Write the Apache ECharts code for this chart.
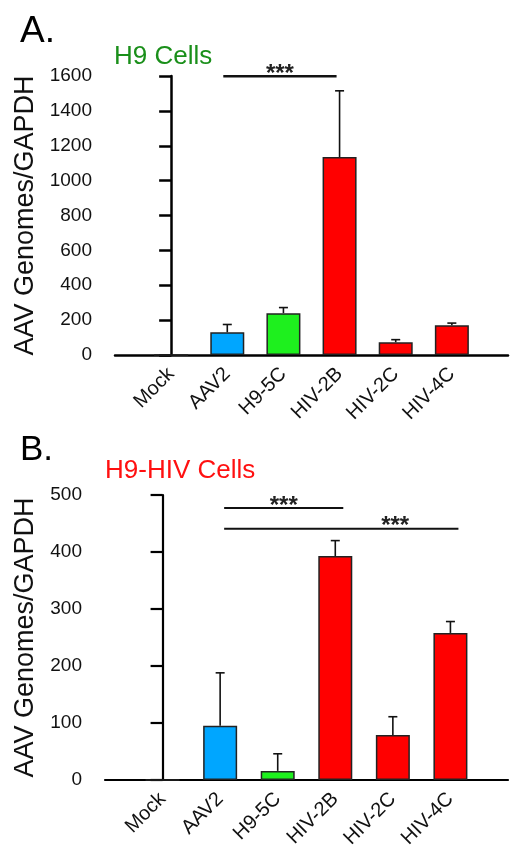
<!DOCTYPE html>
<html>
<head>
<meta charset="utf-8">
<script src="https://cdn.jsdelivr.net/npm/echarts@6/dist/echarts.min.js"></script>
<style>html,body{margin:0;padding:0;background:#fff}#c{width:532px;height:858px}</style>
</head>
<body>
<div id="c"></div>
<script>
// ---- data ----
const categories = ['Mock', 'AAV2', 'H9-5C', 'HIV-2B', 'HIV-2C', 'HIV-4C'];
const valuesA = [0, 130, 240, 1135, 73, 170];
const errorsA = [0, 45, 32, 380, 15, 13];
const valuesB = [0, 95, 16, 393, 79, 258];
const errorsB = [0, 93, 30, 27, 32, 20];
const ticksA = [0, 200, 400, 600, 800, 1000, 1200, 1400, 1600];
const ticksB = [0, 100, 200, 300, 400, 500];
// significance brackets: [fromCategory, toCategory, height]
const bracketsA = [['AAV2', 'HIV-2B', 1598]];
const bracketsB = [['AAV2', 'HIV-2B', 477], ['AAV2', 'HIV-4C', 441]];

// ---- styles ----
const barColors = ['#ffffff', '#00a6ff', '#1ef01e', '#ff0000', '#ff0000', '#ff0000'];
const FONT = 'Liberation Sans, Arial, sans-serif';

const chart = echarts.init(document.getElementById('c'), null, {renderer: 'canvas'});

function xAxisCfg(gi, w) {
  return {
    gridIndex: gi, type: 'value', min: -1, max: 6, interval: 1,
    axisLine: {show: true, onZero: false, lineStyle: {color: '#000', width: w}},
    axisTick: {show: false}, splitLine: {show: false},
    axisLabel: {rotate: 45, fontSize: 20, color: '#111', margin: 16, fontFamily: FONT,
      formatter: v => (categories[v] !== undefined ? categories[v] : '')}
  };
}
function yAxisCfg(gi, ticks, gap, w) {
  return {
    gridIndex: gi, type: 'value', min: ticks[0], max: ticks[ticks.length - 1],
    interval: ticks[1] - ticks[0],
    name: 'AAV Genomes/GAPDH', nameLocation: 'middle', nameRotate: 90, nameGap: gap,
    nameTextStyle: {fontSize: 27, color: '#111', fontFamily: FONT},
    axisLine: {show: true, lineStyle: {color: '#000', width: w}},
    axisTick: {show: true, length: 12, lineStyle: {color: '#000', width: w}},
    splitLine: {show: false},
    axisLabel: {fontSize: 19, color: '#111', margin: 23, fontFamily: FONT,
      formatter: v => String(v)}
  };
}
function barSeries(gi, values) {
  return {
    type: 'bar', xAxisIndex: gi, yAxisIndex: gi, barWidth: 34,
    data: values.map((v, i) => ({value: [i, v], itemStyle: {color: barColors[i]}})),
    itemStyle: {borderColor: '#222', borderWidth: 1.5}
  };
}
function errSeries(gi, values, errs) {
  return {
    type: 'custom', xAxisIndex: gi, yAxisIndex: gi, z: 1,
    data: values.map((v, i) => [i, v, v + errs[i]]),
    renderItem: (params, api) => {
      if (api.value(2) === api.value(1)) return null;
      const p0 = api.coord([api.value(0), api.value(1)]);
      const p1 = api.coord([api.value(0), api.value(2)]);
      const st = {stroke: '#111', lineWidth: 1.6};
      return {type: 'group', children: [
        {type: 'line', shape: {x1: p0[0], y1: p0[1], x2: p1[0], y2: p1[1]}, style: st},
        {type: 'line', shape: {x1: p1[0] - 4.5, y1: p1[1], x2: p1[0] + 4.5, y2: p1[1]}, style: st}
      ]};
    }
  };
}
function bracketSeries(gi, brackets, offL, offR, lw) {
  return {
    type: 'custom', xAxisIndex: gi, yAxisIndex: gi, z: 5, clip: false,
    data: brackets.map(b => [categories.indexOf(b[0]), categories.indexOf(b[1]), b[2]]),
    renderItem: (params, api) => {
      const a = api.coord([api.value(0), api.value(2)]);
      const b = api.coord([api.value(1), api.value(2)]);
      const x1 = a[0] + offL, x2 = b[0] + offR, y = a[1];
      const tx = params.dataIndex === 1 ? x1 + (x2 - x1) * 0.73 : (x1 + x2) / 2;
      return {type: 'group', children: [
        {type: 'line', shape: {x1: x1, y1: y, x2: x2, y2: y}, style: {stroke: '#111', lineWidth: lw}},
        {type: 'text', x: tx, y: y - 2, style: {text: '***', fontSize: 24, fontWeight: 'bold', fontFamily: FONT,
          fill: '#222', align: 'center', verticalAlign: 'middle'}}
      ]};
    }
  };
}

chart.setOption({
  animation: false,
  backgroundColor: '#fff',
  title: [
    {text: 'A.', left: 15, top: 8, textStyle: {fontSize: 37, fontWeight: 'normal', color: '#000', fontFamily: FONT}},
    {text: 'H9 Cells', left: 109, top: 39, textStyle: {fontSize: 26, fontWeight: 'normal', color: '#1a8f1a', fontFamily: FONT}},
    {text: 'B.', left: 15, top: 428, textStyle: {fontSize: 35, fontWeight: 'normal', color: '#000', fontFamily: FONT}},
    {text: 'H9-HIV Cells', left: 100, top: 453, textStyle: {fontSize: 26, fontWeight: 'normal', color: '#ff1010', fontFamily: FONT}}
  ],
  grid: [
    {left: 115, right: 24, top: 76, height: 279},
    {left: 105, right: 24, top: 495, height: 285}
  ],
  xAxis: [xAxisCfg(0, 2.5), xAxisCfg(1, 2.2)],
  yAxis: [yAxisCfg(0, ticksA, 69, 2.5), yAxisCfg(1, ticksB, 59, 2.2)],
  series: [
    errSeries(0, valuesA, errorsA), barSeries(0, valuesA), bracketSeries(0, bracketsA, -4, -3, 2.5),
    errSeries(1, valuesB, errorsB), barSeries(1, valuesB), bracketSeries(1, bracketsB, 4, 8, 2)
  ]
});
</script>
</body>
</html>
